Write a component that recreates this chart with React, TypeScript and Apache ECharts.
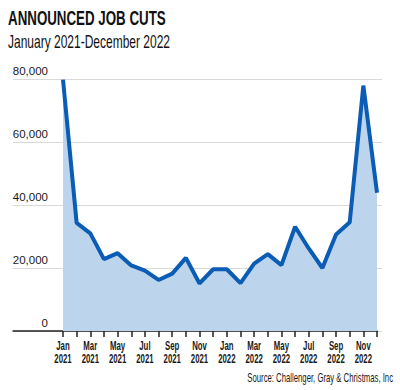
import React, { useEffect, useRef } from "react";
import * as echarts from "echarts";

const months = ["Jan", "Feb", "Mar", "Apr", "May", "Jun", "Jul", "Aug", "Sep", "Oct", "Nov", "Dec",
  "Jan", "Feb", "Mar", "Apr", "May", "Jun", "Jul", "Aug", "Sep", "Oct", "Nov", "Dec"];
const years = ["2021", "2021", "2021", "2021", "2021", "2021", "2021", "2021", "2021", "2021", "2021", "2021",
  "2022", "2022", "2022", "2022", "2022", "2022", "2022", "2022", "2022", "2022", "2022", "2022"];
const jobCuts = [79800, 34300, 31000, 22800, 24700, 20800, 19200, 16200, 18200, 23200, 15100, 19600,
  19600, 15200, 21400, 24400, 20900, 33100, 26200, 20000, 30600, 34500, 77900, 43900];
const yTicks = { min: 0, max: 80000, interval: 20000 };

const title = "ANNOUNCED JOB CUTS";
const subtitle = "January 2021-December 2022";
const source = "Source: Challenger, Gray & Christmas, Inc";

const FONT = "'Liberation Sans', Arial, sans-serif";

export default function App() {
  const ref = useRef<HTMLDivElement>(null);
  useEffect(() => {
    document.body.style.margin = "0";
    if (!ref.current) return;
    const chart = echarts.init(ref.current, undefined, { renderer: "svg" });
    const categories = months.map((m, i) => m + " " + years[i]);
    const labelIdx = months.map((_, i) => i).filter((i) => i % 2 === 0);
    const top = 79;
    const bottom = 390 - 331;
    chart.setOption({
      animation: false,
      backgroundColor: "#ffffff",
      grid: [
        { left: 13, right: 18, top, bottom },
        { left: 13, right: 23, top, bottom },
        { left: 63, right: 23, top, bottom },
      ],
      xAxis: [
        { type: "value", gridIndex: 0, show: false, min: 0, max: 1 },
        {
          type: "value", gridIndex: 1, min: 0, max: 1,
          axisLine: { show: true, lineStyle: { color: "#222", width: 1.5 } },
          axisTick: { show: false }, axisLabel: { show: false }, splitLine: { show: false },
        },
        {
          type: "category", gridIndex: 2, data: categories, boundaryGap: false,
          axisLine: { show: false },
          axisTick: { show: true, interval: 0, length: 6, lineStyle: { color: "#222", width: 1.5 } },
          axisLabel: { show: false },
          splitLine: { show: false },
        },
      ],
      yAxis: [
        {
          type: "value", gridIndex: 0, min: yTicks.min, max: yTicks.max, interval: yTicks.interval,
          axisLine: { show: false }, axisTick: { show: false },
          axisLabel: {
            margin: -35, align: "right", verticalAlign: "bottom", padding: [0, 0, 2, 0],
            fontFamily: FONT, fontSize: 11.5, color: "#1a1a1a",
            formatter: (v: number) => v.toLocaleString("en-US"),
          },
          splitLine: { show: true, lineStyle: { color: "#d9d9d9", width: 1 } },
        },
        { type: "value", gridIndex: 1, show: false, min: yTicks.min, max: yTicks.max },
        { type: "value", gridIndex: 2, show: false, min: yTicks.min, max: yTicks.max },
      ],
      series: [
        {
          type: "line", xAxisIndex: 2, yAxisIndex: 2, data: jobCuts,
          symbol: "none",
          lineStyle: { color: "#0b5cb5", width: 4 },
          areaStyle: { color: "#bdd5ec", opacity: 1 },
          z: 3,
        },
        {
          type: "custom", xAxisIndex: 2, yAxisIndex: 2, clip: false, silent: true,
          data: labelIdx.map((i) => [i, 0]),
          renderItem: (params: any, api: any) => {
            const i = api.value(0);
            const p = api.coord([i, 0]);
            return {
              type: "text", x: p[0], y: p[1] + 8, scaleX: 0.6,
              style: {
                text: months[i] + "\n" + years[i],
                fontFamily: FONT, fontWeight: "bold", fontSize: 13, lineHeight: 12.5, fill: "#1a1a1a",
                textAlign: "center", textVerticalAlign: "top",
              },
            };
          },
          z: 5,
        },
      ],
      graphic: [
        {
          type: "text", x: 8, y: 9, scaleX: 0.667,
          style: { text: title, fontFamily: FONT, fontWeight: "bold", fontSize: 20, fill: "#111", textVerticalAlign: "top" },
        },
        {
          type: "text", x: 8, y: 32.5, scaleX: 0.667,
          style: { text: subtitle, fontFamily: FONT, fontSize: 18, fill: "#111", textVerticalAlign: "top" },
        },
        {
          type: "text", x: 393, y: 371, scaleX: 0.62,
          style: { text: source, fontFamily: FONT, fontSize: 12.5, fill: "#1a1a1a", textAlign: "right", textVerticalAlign: "top" },
        },
      ],
    });
    return () => chart.dispose();
  }, []);
  return <div ref={ref} style={{ width: 400, height: 390 }} />;
}
